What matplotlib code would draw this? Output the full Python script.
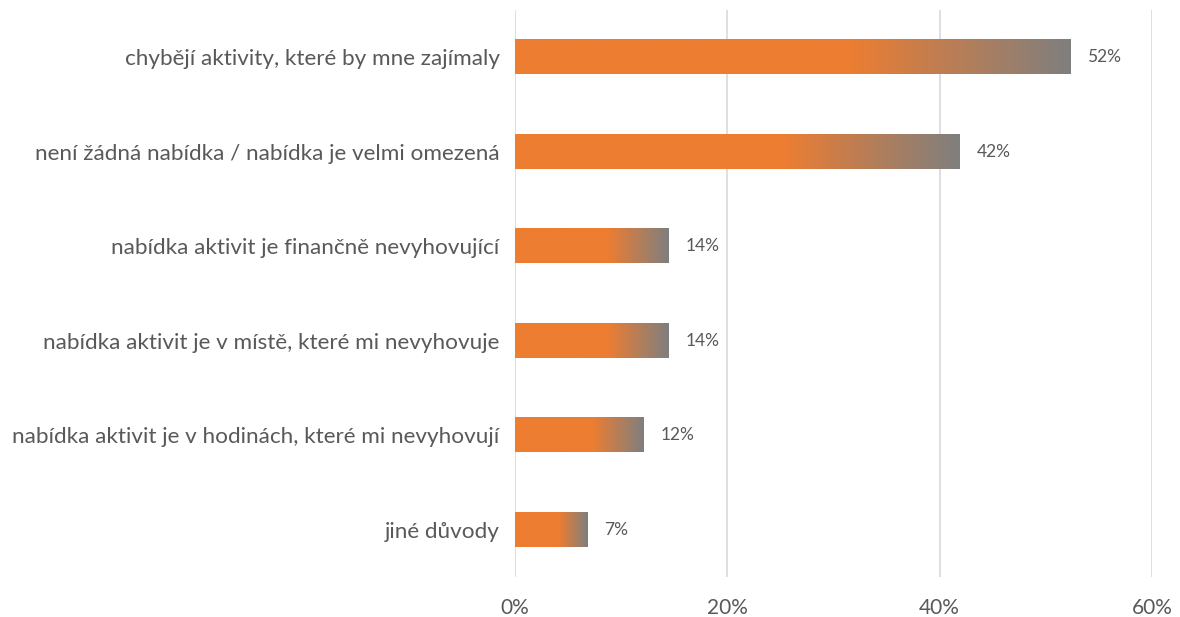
import numpy as np
import matplotlib
matplotlib.use("Agg")
import matplotlib.pyplot as plt
from matplotlib.colors import LinearSegmentedColormap

categories = [
    "chybějí aktivity, které by mne zajímaly",
    "není žádná nabídka / nabídka je velmi omezená",
    "nabídka aktivit je finančně nevyhovující",
    "nabídka aktivit je v místě, které mi nevyhovuje",
    "nabídka aktivit je v hodinách, které mi nevyhovují",
    "jiné důvody",
]
values = [52.3, 41.9, 14.5, 14.5, 12.1, 6.8]
value_labels = ["52%", "42%", "14%", "14%", "12%", "7%"]
xticks = [0, 20, 40, 60]
xtick_labels = ["0%", "20%", "40%", "60%"]

plt.rcParams["font.family"] = ["Lato", "DejaVu Sans"]
text_color = "#595959"
orange = "#ED7D31"
gray = "#7F7F7F"

fig = plt.figure(figsize=(11.8, 6.17), dpi=100)
ax = fig.add_axes([515 / 1180, 1 - 577 / 617, (1152 - 515) / 1180, (577 - 10) / 617])

cmap = LinearSegmentedColormap.from_list("og", [(0, orange), (0.6, orange), (1.0, gray)])
grad = np.linspace(0, 1, 256).reshape(1, -1)
h = 0.36
n = len(categories)
for i, (v, lab) in enumerate(zip(values, value_labels)):
    y = i
    ax.imshow(grad, cmap=cmap, aspect="auto", extent=[0, v, y + h / 2, y - h / 2],
              interpolation="bilinear", zorder=3)
    ax.text(v + 1.6, y, lab, va="center", ha="left", fontsize=12.5, color=text_color)

ax.set_xlim(0, 60)
ax.set_ylim(n - 0.5, -0.5)
ax.set_xticks(xticks)
ax.set_xticklabels(xtick_labels, fontsize=15, color=text_color)
ax.set_yticks(range(n))
ax.set_yticklabels(categories, fontsize=16.2, color=text_color)
ax.tick_params(axis="both", length=0)
ax.tick_params(axis="x", pad=15)
ax.tick_params(axis="y", pad=11)
for s in ax.spines.values():
    s.set_visible(False)
ax.grid(axis="x", color="#D9D9D9", linewidth=1.2, zorder=0)
ax.set_axisbelow(True)

fig.savefig("out.png", dpi=100)
